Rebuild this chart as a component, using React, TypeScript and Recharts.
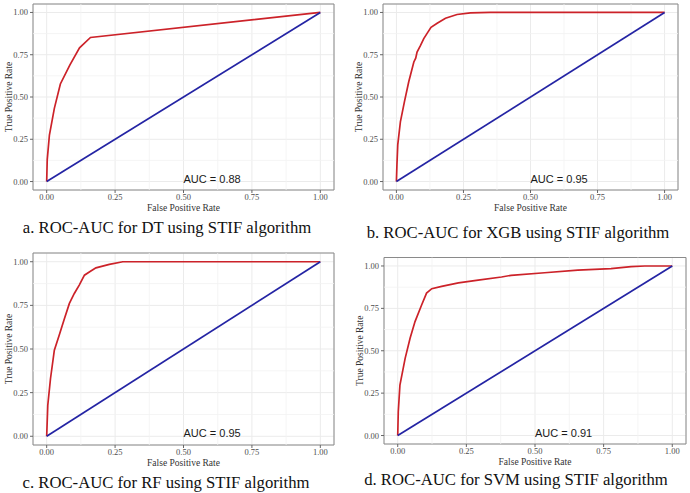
import {
	CartesianGrid,
	Line,
	LineChart,
	ReferenceArea,
	ReferenceDot,
	ReferenceLine,
	XAxis,
	YAxis,
} from "recharts";

// ROC curves (false positive rate / true positive rate)
const dtFpr = [0, 0.002, 0.01, 0.028, 0.05, 0.085, 0.12, 0.16, 1];
const dtTpr = [0, 0.13, 0.275, 0.433, 0.577, 0.69, 0.791, 0.852, 1];

const xgbFpr = [0, 0.002, 0.005, 0.015, 0.03, 0.046, 0.065, 0.072, 0.077, 0.09, 0.102, 0.115, 0.129, 0.152, 0.183, 0.226, 0.276, 0.35, 1];
const xgbTpr = [0, 0.1, 0.217, 0.355, 0.473, 0.59, 0.707, 0.73, 0.766, 0.805, 0.845, 0.878, 0.912, 0.936, 0.966, 0.988, 0.998, 1, 1];

const rfFpr = [0, 0.004, 0.014, 0.028, 0.046, 0.065, 0.083, 0.101, 0.119, 0.138, 0.16, 0.18, 0.229, 0.278, 1];
const rfTpr = [0, 0.178, 0.331, 0.493, 0.58, 0.675, 0.761, 0.818, 0.866, 0.923, 0.945, 0.965, 0.985, 1, 1];

const svmFpr = [0, 0.002, 0.008, 0.027, 0.045, 0.063, 0.087, 0.105, 0.124, 0.16, 0.221, 0.293, 0.378, 0.413, 0.535, 0.656, 0.777, 0.85, 0.9, 1];
const svmTpr = [0, 0.14, 0.297, 0.455, 0.574, 0.672, 0.77, 0.84, 0.866, 0.88, 0.9, 0.917, 0.935, 0.945, 0.96, 0.976, 0.984, 0.996, 1, 1];

const chanceFpr = [0, 1];
const chanceTpr = [0, 1];

const axisTicks = [0, 0.25, 0.5, 0.75, 1];
const minorTicks = [0.125, 0.375, 0.625, 0.875];

const captions = [
	"a. ROC-AUC for DT using STIF algorithm",
	"b. ROC-AUC for XGB using STIF algorithm",
	"c. ROC-AUC for RF using STIF algorithm",
	"d. ROC-AUC for SVM using STIF algorithm",
];
const aucLabels = ["AUC = 0.88", "AUC = 0.95", "AUC = 0.95", "AUC = 0.91"];

const toPoints = (fpr: number[], tpr: number[]) =>
	fpr.map((x, i) => ({ fpr: x, tpr: tpr[i] }));

const curves = [
	toPoints(dtFpr, dtTpr),
	toPoints(xgbFpr, xgbTpr),
	toPoints(rfFpr, rfTpr),
	toPoints(svmFpr, svmTpr),
];
const chance = toPoints(chanceFpr, chanceTpr);

// where each panel sits on the page
const layouts = [
	{ left: 0, top: 0, height: 215, mt: 4, mr: 11, yw: 33, ytitle: 8.5, capY: 233, capX: 167 },
	{ left: 345, top: 0, height: 215, mt: 4, mr: 12, yw: 38, ytitle: 13.5, capY: 238, capX: 518 },
	{ left: 0, top: 246, height: 224, mt: 7, mr: 11, yw: 33, ytitle: 8.5, capY: 488, capX: 166 },
	{ left: 345, top: 246, height: 223, mt: 11.5, mr: 4, yw: 39, ytitle: 15, capY: 485, capX: 516 },
];

const serif = "'Liberation Serif', 'Times New Roman', serif";
const sans = "'Liberation Sans', Arial, sans-serif";
const domain: [number, number] = [-0.05, 1.05];
const fmt = (v: number) => v.toFixed(2);

function RocPanel({ index }: { index: number }) {
	const l = layouts[index];
	const tickStyle = { fontSize: 8.5, fontFamily: serif, fill: "#4d4d4d" };
	return (
		<>
			<div style={{ position: "absolute", left: l.left, top: l.top }}>
				<LineChart
					width={345}
					height={l.height}
					margin={{ top: l.mt, right: l.mr, left: 0, bottom: 0 }}
				>
					<CartesianGrid stroke="#ebebeb" strokeWidth={1} />
					{minorTicks.map((t) => (
						<ReferenceLine key={`x${t}`} x={t} stroke="#f3f3f3" strokeWidth={0.8} />
					))}
					{minorTicks.map((t) => (
						<ReferenceLine key={`y${t}`} y={t} stroke="#f3f3f3" strokeWidth={0.8} />
					))}
					<XAxis
						type="number"
						dataKey="fpr"
						domain={domain}
						ticks={axisTicks}
						tickFormatter={fmt}
						allowDataOverflow
						height={25}
						axisLine={false}
						tickSize={3}
						tickMargin={1}
						tickLine={{ stroke: "#666" }}
						tick={tickStyle}
						label={{
							value: "False Positive Rate",
							position: "insideBottom",
							offset: 4,
							style: { fontSize: 9.5, fontFamily: serif, fill: "#333" },
						}}
					/>
					<YAxis
						type="number"
						dataKey="tpr"
						domain={domain}
						ticks={axisTicks}
						tickFormatter={fmt}
						allowDataOverflow
						width={l.yw}
						axisLine={false}
						tickSize={3}
						tickMargin={2}
						tickLine={{ stroke: "#666" }}
						tick={tickStyle}
						label={{
							value: "True Positive Rate",
							angle: -90,
							position: "insideLeft",
							offset: l.ytitle,
							style: { textAnchor: "middle", fontSize: 9.5, fontFamily: serif, fill: "#333" },
						}}
					/>
					<Line
						data={curves[index]}
						dataKey="tpr"
						type="linear"
						stroke="#cc2229"
						strokeWidth={1.7}
						dot={false}
						isAnimationActive={false}
					/>
					<Line
						data={chance}
						dataKey="tpr"
						type="linear"
						stroke="#2424a4"
						strokeWidth={1.7}
						dot={false}
						isAnimationActive={false}
					/>
					<ReferenceDot
						x={0.5}
						y={0}
						r={0}
						fill="none"
						stroke="none"
						label={(props: any) => (
							<text
								x={props.viewBox.x}
								y={props.viewBox.y}
								dy={-3}
								dominantBaseline="central"
								fontSize={11}
								fontFamily={sans}
								fill="#1a1a1a"
							>
								{aucLabels[index]}
							</text>
						)}
					/>
					<ReferenceArea
						x1={-0.05}
						x2={1.05}
						y1={-0.05}
						y2={1.05}
						fill="none"
						stroke="#8a8a8a"
						strokeWidth={1}
					/>
				</LineChart>
			</div>
			<div
				style={{
					position: "absolute",
					left: l.capX - 172,
					width: 344,
					top: l.capY - 15,
					textAlign: "center",
					fontFamily: serif,
					fontSize: 16.7,
					color: "#111",
					whiteSpace: "nowrap",
				}}
			>
				{captions[index]}
			</div>
		</>
	);
}

export default function App() {
	return (
		<div
			style={{
				position: "absolute",
				left: 0,
				top: 0,
				width: 690,
				height: 493,
				background: "#fff",
				overflow: "hidden",
			}}
		>
			{layouts.map((_, i) => (
				<RocPanel key={i} index={i} />
			))}
		</div>
	);
}
